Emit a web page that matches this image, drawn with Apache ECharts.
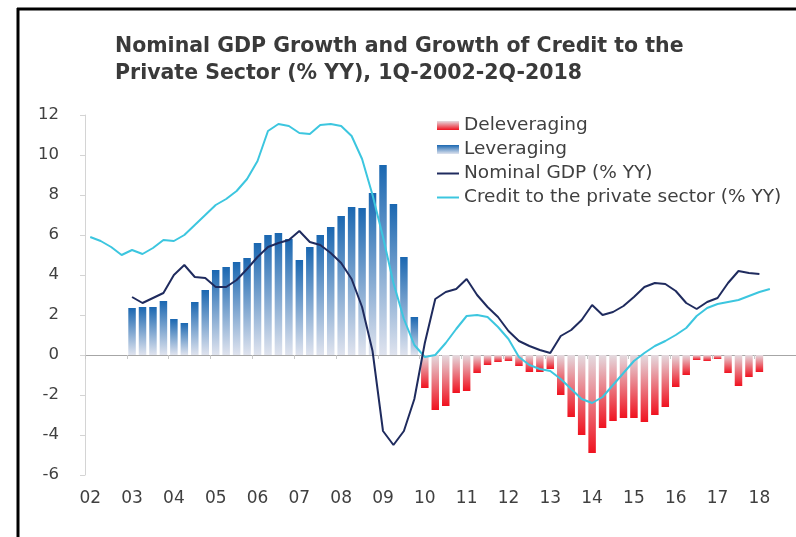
<!DOCTYPE html>
<html>
<head>
<meta charset="utf-8">
<script src="https://cdn.jsdelivr.net/npm/echarts@6/dist/echarts.min.js"></script>
<style>
  html, body { margin: 0; padding: 0; background: #fff; }
  #chart { width: 796px; height: 537px; }
</style>
</head>
<body>
<div id="chart"></div>
<script>
// Quarterly data, 1Q-2002 .. 2Q-2018 (axis runs to 4Q-2018, cropped at the right)
const firstYear = 2002;
const lastYear = 2018;

// Credit to the private sector (% YY), from 1Q-2002
const credit = [
    5.9, 5.7, 5.4, 5.0,
    5.25, 5.05, 5.35, 5.75,
    5.7, 6.0, 6.5, 7.0,
    7.5, 7.8, 8.2, 8.8,
    9.7, 11.2, 11.55, 11.45,
    11.1, 11.05, 11.5, 11.55,
    11.45, 10.95, 9.8, 8.0,
    5.9, 3.6, 1.8, 0.5,
    -0.1, 0.0, 0.6, 1.3,
    1.95, 2.0, 1.9, 1.4,
    0.8, -0.1, -0.5, -0.7,
    -0.8, -1.2, -1.7, -2.2,
    -2.4, -2.1, -1.5, -0.9,
    -0.3, 0.1, 0.45, 0.7,
    1.0, 1.35, 1.95, 2.35,
    2.55, 2.65, 2.75, 2.95,
    3.15, 3.3
];

// Nominal GDP (% YY), from 1Q-2003
const gdpStart = 4;
const gdp = [
    2.9, 2.6, 2.85, 3.1,
    4.0, 4.5, 3.9, 3.85,
    3.4, 3.4, 3.75, 4.3,
    4.9, 5.4, 5.6, 5.75,
    6.2, 5.65, 5.5, 5.1,
    4.6, 3.8, 2.4, 0.2,
    -3.8, -4.5, -3.8, -2.2,
    0.6, 2.8, 3.15, 3.3,
    3.8, 3.0, 2.4, 1.9,
    1.2, 0.7, 0.45, 0.25,
    0.1, 0.95, 1.25, 1.75,
    2.5, 2.0, 2.15, 2.45,
    2.9, 3.4, 3.6, 3.55,
    3.2, 2.6, 2.3, 2.65,
    2.85, 3.6, 4.2, 4.1,
    4.05
];

// Leveraging / deleveraging gap (bars), from 1Q-2003
const barStart = 4;
const gap = [
    2.35, 2.4, 2.4, 2.7,
    1.8, 1.6, 2.65, 3.25,
    4.25, 4.4, 4.65, 4.85,
    5.6, 6.0, 6.1, 5.8,
    4.75, 5.4, 6.0, 6.4,
    6.95, 7.4, 7.35, 8.1,
    9.5, 7.55, 4.9, 1.9,
    -1.65, -2.75, -2.55, -1.9,
    -1.8, -0.9, -0.5, -0.35,
    -0.3, -0.55, -0.85, -0.85,
    -0.7, -2.0, -3.1, -4.0,
    -4.9, -3.65, -3.3, -3.15,
    -3.15, -3.35, -3.0, -2.6,
    -1.6, -1.0, -0.25, -0.3,
    -0.2, -0.9, -1.55, -1.1,
    -0.85
];

const yTicks = { min: -6, max: 12, step: 2 };

// Build category list
const quarters = [];
for (let y = firstYear; y <= lastYear; y++) {
    for (let q = 1; q <= 4; q++) quarters.push(q + 'Q-' + y);
}

function pad(arr, start) {
    const out = quarters.map(() => null);
    arr.forEach((v, i) => { out[start + i] = v; });
    return out;
}

const gdpData = pad(gdp, gdpStart);
const gapData = pad(gap, barStart);
const levData = gapData.map(v => (v !== null && v > 0 ? v : null));
const delevData = gapData.map(v => (v !== null && v < 0 ? v : null));

const chart = echarts.init(document.getElementById('chart'));
const font = 'DejaVu Sans, Arial, sans-serif';
const textGrey = '#404040';
const lineIcon = 'path://M0,0 L22,0 L22,2 L0,2 Z';

const option = {
    backgroundColor: '#fff',
    animation: false,
    title: {
        text: 'Nominal GDP Growth and Growth of Credit to the\nPrivate Sector (% YY), 1Q-2002-2Q-2018',
        left: 110,
        top: 28,
        textStyle: {
            fontFamily: font,
            fontSize: 20.5,
            fontWeight: 'bold',
            color: '#3a3a3a',
            lineHeight: 27
        }
    },
    legend: {
        orient: 'vertical',
        left: 437,
        top: 116,
        padding: 0,
        itemGap: 5,
        itemWidth: 22,
        itemHeight: 9,
        textStyle: { fontFamily: font, fontSize: 18.5, color: textGrey },
        data: [
            { name: 'Deleveraging', icon: 'rect' },
            { name: 'Leveraging', icon: 'rect' },
            { name: 'Nominal GDP (% YY)', icon: lineIcon },
            { name: 'Credit to the private sector (% YY)', icon: lineIcon }
        ]
    },
    grid: { left: 85, right: -13, top: 115, bottom: 62 },
    xAxis: [
        {
            type: 'category',
            data: quarters,
            boundaryGap: true,
            axisLine: { onZero: true, lineStyle: { color: '#a6a6a6', width: 1 } },
            axisTick: { show: true, interval: 3, length: 4, lineStyle: { color: '#c8c8c8' } },
            axisLabel: { show: false }
        },
        {
            type: 'category',
            data: quarters,
            position: 'bottom',
            boundaryGap: true,
            axisLine: { show: false, onZero: false },
            axisTick: { show: false },
            axisLabel: {
                interval: 3,
                margin: 15,
                fontFamily: font,
                fontSize: 17,
                color: textGrey,
                formatter: v => v.slice(-2)
            }
        }
    ],
    yAxis: {
        type: 'value',
        min: yTicks.min,
        max: yTicks.max,
        interval: yTicks.step,
        splitLine: { show: false },
        axisLine: { show: true, lineStyle: { color: '#d4d4d4' } },
        axisTick: { show: true, length: 5, lineStyle: { color: '#d4d4d4' } },
        axisLabel: { margin: 26, fontFamily: font, fontSize: 16.5, color: textGrey }
    },
    series: [
        {
            name: 'Deleveraging',
            type: 'bar',
            data: delevData,
            barWidth: 7.5,
            barGap: '-100%',
            itemStyle: {
                color: new echarts.graphic.LinearGradient(0, 0, 0, 1, [
                    { offset: 0, color: '#e4dbe0' },
                    { offset: 1, color: '#f0121f' }
                ])
            },
            z: 2
        },
        {
            name: 'Leveraging',
            type: 'bar',
            data: levData,
            barWidth: 7.5,
            barGap: '-100%',
            itemStyle: {
                color: new echarts.graphic.LinearGradient(0, 0, 0, 1, [
                    { offset: 0, color: '#1a67b1' },
                    { offset: 1, color: '#dfe3ee' }
                ])
            },
            z: 2
        },
        {
            name: 'Nominal GDP (% YY)',
            type: 'line',
            data: gdpData,
            symbol: 'none',
            lineStyle: { color: '#1f2b5e', width: 2 },
            itemStyle: { color: '#1f2b5e' },
            z: 4
        },
        {
            name: 'Credit to the private sector (% YY)',
            type: 'line',
            data: credit,
            symbol: 'none',
            lineStyle: { color: '#3cc6df', width: 2 },
            itemStyle: { color: '#3cc6df' },
            z: 3
        }
    ],
    graphic: [
        { type: 'line', shape: { x1: 18, y1: 8, x2: 18, y2: 537 }, style: { stroke: '#000', lineWidth: 3 } },
        { type: 'line', shape: { x1: 17, y1: 9, x2: 796, y2: 9 }, style: { stroke: '#000', lineWidth: 3 } }
    ]
};

chart.setOption(option);
</script>
</body>
</html>
